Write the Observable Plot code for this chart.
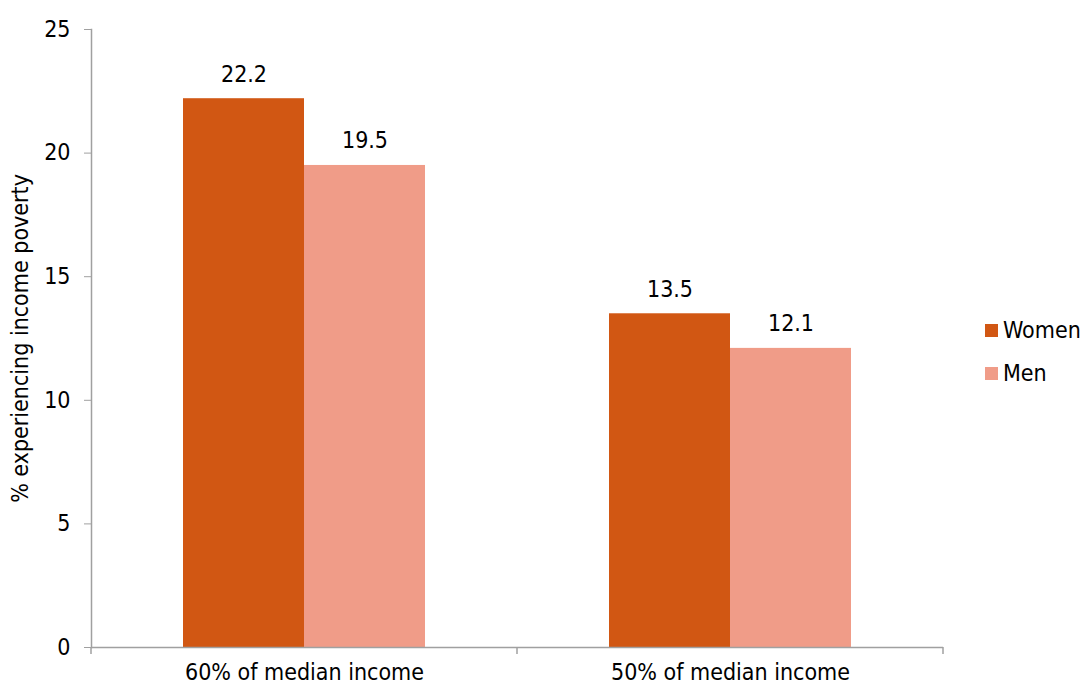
<!DOCTYPE html>
<html><head><meta charset="utf-8">
<script src="https://cdn.jsdelivr.net/npm/d3@7"></script>
<script src="https://cdn.jsdelivr.net/npm/@observablehq/plot@0.6"></script>
<style>
body{margin:0;background:#fff;font-family:"DejaVu Sans";font-stretch:condensed;}
#wrap{position:relative;width:1083px;height:686px;overflow:hidden;}
#chart{position:absolute;left:0;top:0;}
#legend{position:absolute;left:985px;top:309px;font-size:23px;line-height:43px;color:#000;}
#legend .item{display:flex;align-items:center;white-space:nowrap;}
#legend .sw{width:13px;height:13px;margin-right:5px;display:inline-block;}
</style></head><body><div id="wrap"><div id="chart"></div><div id="legend"></div></div>
<script>
const categories = ["60% of median income", "50% of median income"];
const groups = ["Women", "Men"];
const women = [22.2, 13.5];
const men = [19.5, 12.1];
const yTicks = [0, 5, 10, 15, 20, 25];
const colors = ["#D15713", "#F09C88"];
const yLabel = "% experiencing income poverty";

const data = categories.flatMap((c, i) => [
  {category: c, group: groups[0], value: women[i]},
  {category: c, group: groups[1], value: men[i]}
]);

const plot = Plot.plot({
  width: 950, height: 686,
  marginTop: 29, marginBottom: 39, marginLeft: 91, marginRight: 7,
  style: {fontFamily: "DejaVu Sans", fontSize: "23px", fontStretch: "condensed", color: "#000", background: "#fff", overflow: "visible"},
  fx: {domain: categories, padding: 0, label: null},
  x: {domain: groups, paddingInner: 0, paddingOuter: 0.747, axis: null},
  y: {domain: [0, 25]},
  color: {domain: groups, range: colors},
  marks: [
    Plot.barY(data, {fx: "category", x: "group", y: "value", fill: "group"}),
    Plot.text(data, {fx: "category", x: "group", y: "value", text: d => d.value.toFixed(1), dy: -17, lineAnchor: "bottom", fill: "#000"}),
    Plot.ruleY([0], {stroke: "#a0a0a0", strokeWidth: 1.5}),
    Plot.frame({anchor: "left", facetAnchor: "left", stroke: "#a0a0a0", strokeWidth: 1.5}),
    Plot.axisY({ticks: yTicks, tickSize: 7, tickPadding: 14, stroke: "#a0a0a0", fill: "#000", label: yLabel, labelAnchor: "center", labelArrow: false, labelOffset: 80, tickFormat: d => d}),
    Plot.axisFx({anchor: "bottom", tickSize: 0, tickPadding: 16, label: null, fill: "#000"})
  ]
});

document.getElementById("chart").appendChild(plot);

// category boundary ticks below the x axis, from the library's scales
const fx = plot.scale("fx");
const ys = plot.scale("y");
const y0 = ys.apply(0);
const bounds = new Set();
categories.forEach(c => { const a = fx.apply(c); bounds.add(a); bounds.add(a + fx.bandwidth); });
const svg = d3.select(plot);
for (const b of bounds) {
  svg.append("line").attr("x1", b).attr("x2", b).attr("y1", y0).attr("y2", y0 + 7)
    .attr("stroke", "#a0a0a0").attr("stroke-width", 1.5);
}

const legend = d3.select("#legend");
groups.forEach((g, i) => {
  const it = legend.append("div").attr("class", "item");
  it.append("span").attr("class", "sw").style("background", colors[i]);
  it.append("span").text(g);
});
</script></body></html>
